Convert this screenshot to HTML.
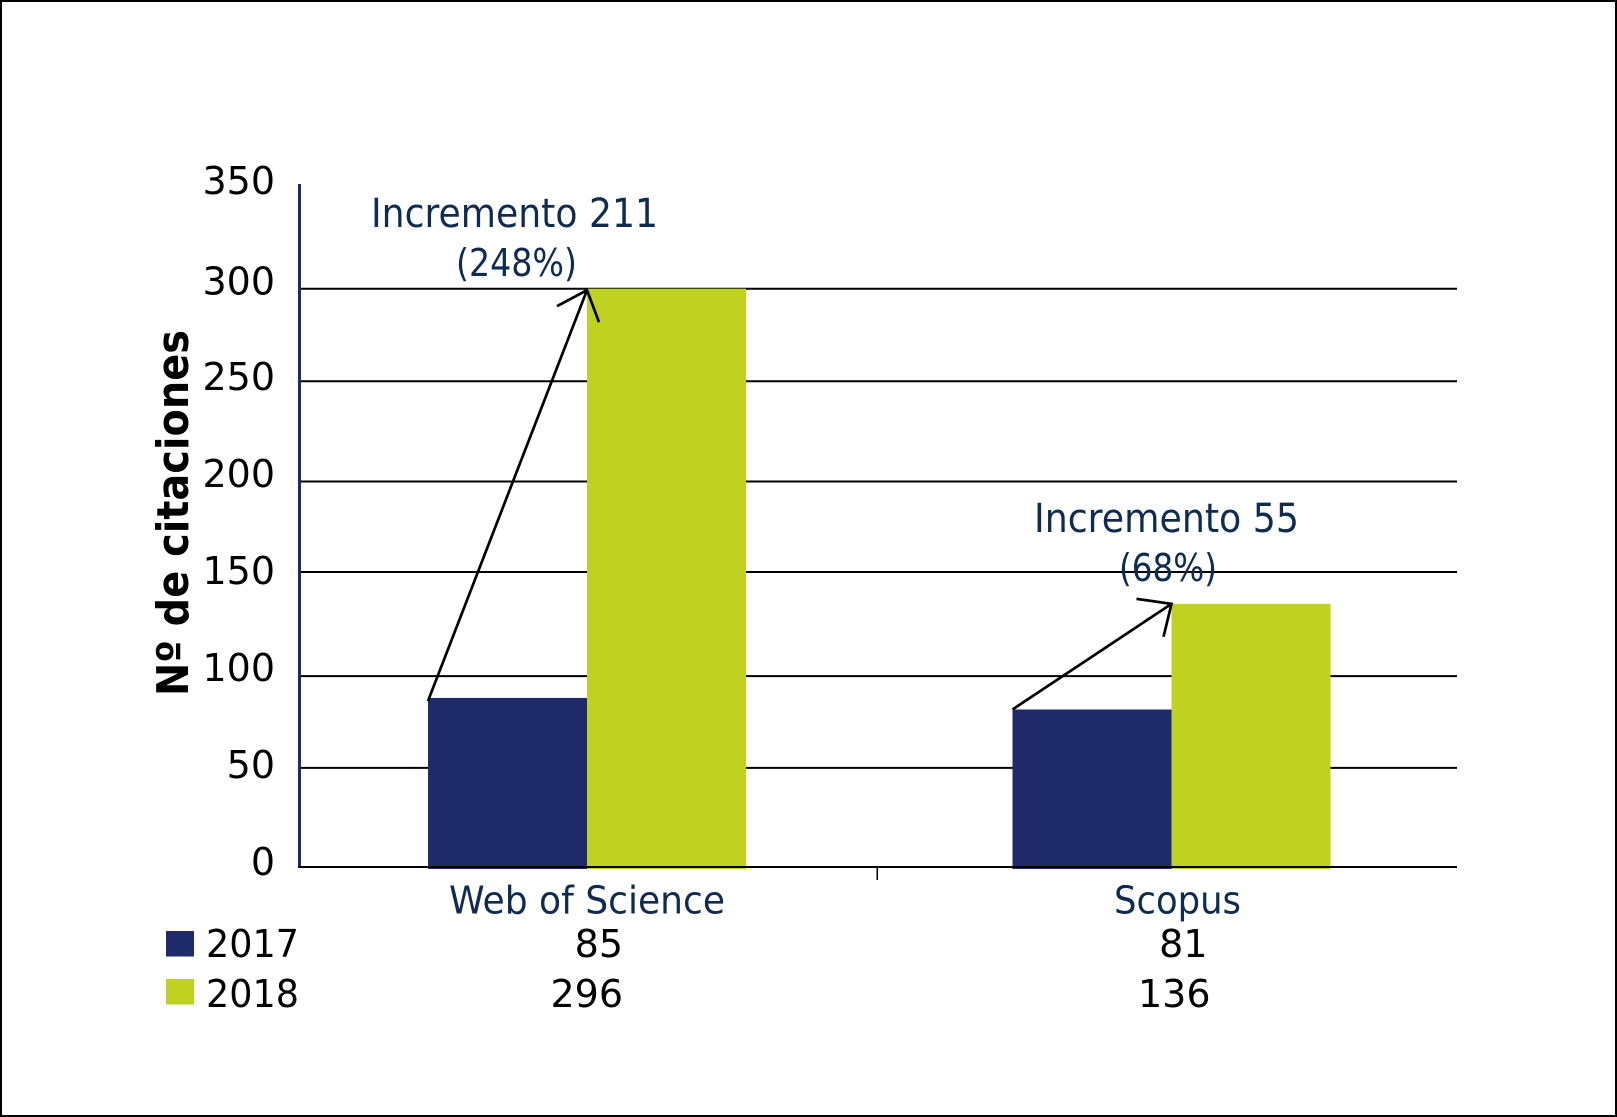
<!DOCTYPE html>
<html lang="es">
<head>
<meta charset="utf-8">
<title>Nº de citaciones</title>
<style>
html,body{margin:0;padding:0;background:#fff;width:1617px;height:1117px;overflow:hidden}
svg{display:block}
text{font-family:"DejaVu Sans","Liberation Sans",sans-serif}
</style>
</head>
<body>
<svg id="chart" xmlns="http://www.w3.org/2000/svg" width="1617" height="1117" viewBox="0 0 1617 1117">
  <rect x="1" y="1" width="1615" height="1115" fill="#fff" stroke="#000" stroke-width="2"/>
  <text transform="translate(188,513) rotate(-90)" text-anchor="middle" font-size="44" font-weight="700" fill="#000" textLength="366" lengthAdjust="spacingAndGlyphs">Nº de citaciones</text>
  <g id="grid"></g>
  <g id="bars"></g>
  <g id="axes"></g>
  <g id="arrows"></g>
  <g id="ylabels"></g>
  <g id="xlabels"></g>
  <g id="table"></g>
  <text x="371" y="227" font-size="40" fill="#0f2b52" textLength="287" lengthAdjust="spacingAndGlyphs">Incremento 211</text>
  <text x="456" y="276" font-size="38" fill="#0f2b52" textLength="121" lengthAdjust="spacingAndGlyphs">(248%)</text>
  <text x="1034" y="532" font-size="40" fill="#0f2b52" textLength="265" lengthAdjust="spacingAndGlyphs">Incremento 55</text>
  <text x="1119" y="581" font-size="38" fill="#0f2b52" textLength="98" lengthAdjust="spacingAndGlyphs">(68%)</text>
</svg>
<script>
// Chart data
const categories = ["Web of Science", "Scopus"];
const seriesNames = ["2017", "2018"];
// Bar heights as drawn in the picture, in axis units
const bars2017 = [87.7, 81.7];
const bars2018 = [300, 136.5];
// Values printed in the table under the chart
const printed2017 = [85, 81];
const printed2018 = [296, 136];
// Gridline levels, in axis units
const gridLevels = [51.4, 99, 153, 200, 252, 300];
const tickLabels = [0, 50, 100, 150, 200, 250, 300, 350];

const NS = "http://www.w3.org/2000/svg";
const NAVY = "#1e2a6a", LIME = "#bfd21f", INK = "#0f2b52";
const baseY = 867, unit = 1.9277;
const firstCenter = 587, groupStep = 584.5, halfBar = 159;

function yScale(v) { return baseY - v * unit; }
function xCenter(i) { return firstCenter + i * groupStep; }
function tickBaseline(v) { return 875 - v * 1.94 + (v === 300 ? 1.5 : 0) + (v === 350 ? -2 : 0); }

function make(tag, attrs, parentId, txt) {
  const el = document.createElementNS(NS, tag);
  for (const k in attrs) el.setAttribute(k, attrs[k]);
  if (txt !== undefined) el.textContent = txt;
  document.getElementById(parentId).appendChild(el);
  return el;
}

// Gridlines
gridLevels.forEach(function (v) {
  const el = make("line", {x1: 301, x2: 1457, y1: yScale(v), y2: yScale(v), stroke: "#000", "stroke-width": 2}, "grid");
  
  
});

// Bars
categories.forEach(function (c, i) {
  const cx = xCenter(i);
  const a = make("rect", {x: cx - halfBar, y: yScale(bars2017[i]), width: halfBar, height: baseY + 2 - yScale(bars2017[i]), fill: NAVY}, "bars");
  
  
  const b = make("rect", {x: cx, y: yScale(bars2018[i]), width: halfBar, height: baseY + 2 - yScale(bars2018[i]), fill: LIME}, "bars");
  
  
});

// Axes
const yAxis = make("line", {x1: 299.5, x2: 299.5, y1: 184, y2: 868, stroke: NAVY, "stroke-width": 3}, "axes");


const xAxis = make("line", {x1: 298, x2: 1457, y1: baseY, y2: baseY, stroke: "#000", "stroke-width": 2}, "axes");


const xTick = make("line", {x1: (xCenter(0) + xCenter(1)) / 2 - 2, x2: (xCenter(0) + xCenter(1)) / 2 - 2, y1: baseY, y2: baseY + 13, stroke: "#000", "stroke-width": 1.5}, "axes");



// Arrows from the 2017 bar top to the 2018 bar top
const barbOffsets = [[[-30, 16], [12, 32]], [[-35, -5], [-8, 33]]];
categories.forEach(function (c, i) {
  const tipX = xCenter(i), tipY = yScale(bars2018[i]) + (i === 0 ? 1.5 : 0);
  const startX = tipX - halfBar, startY = yScale(bars2017[i]) + (i === 0 ? 3 : 0);
  const d = "M" + startX + " " + startY + "L" + tipX + " " + tipY +
    "M" + (tipX + barbOffsets[i][0][0]) + " " + (tipY + barbOffsets[i][0][1]) + "L" + tipX + " " + tipY +
    "L" + (tipX + barbOffsets[i][1][0]) + " " + (tipY + barbOffsets[i][1][1]);
  const el = make("path", {d: d, fill: "none", stroke: "#000", "stroke-width": 2.7}, "arrows");
  
  
});

// Y tick labels
tickLabels.forEach(function (v) {
  const el = make("text", {x: 275, y: tickBaseline(v), "text-anchor": "end", "font-size": 38, fill: "#000"}, "ylabels", String(v));
  
  
});

// Category labels
const catLengths = [276, 127];
categories.forEach(function (c, i) {
  const el = make("text", {x: xCenter(i) + (i === 0 ? 0 : 6), y: 913.5, "text-anchor": "middle", "font-size": 38, fill: INK, textLength: catLengths[i], lengthAdjust: "spacingAndGlyphs"}, "xlabels", c);
  
  
});

// Table: legend swatches, series names and printed values
const rows = [
  {name: seriesNames[0], color: NAVY, vals: printed2017, top: 931, base: 957},
  {name: seriesNames[1], color: LIME, vals: printed2018, top: 979, base: 1007}
];
rows.forEach(function (r, ri) {
  const sw = make("rect", {x: 166, y: r.top, width: 28, height: 25.5, fill: r.color}, "table");
  
  
  const lab = make("text", {x: 206, y: r.base, "font-size": 38, fill: "#000", textLength: 93, lengthAdjust: "spacingAndGlyphs"}, "table", r.name);
  
  
  r.vals.forEach(function (v, i) {
    const t = make("text", {x: xCenter(i) + 36 + (ri === 1 && i === 1 ? 3 : 0), y: r.base, "text-anchor": "end", "font-size": 38, fill: "#000"}, "table", String(v));
    
    
  });
});
</script>
</body>
</html>
